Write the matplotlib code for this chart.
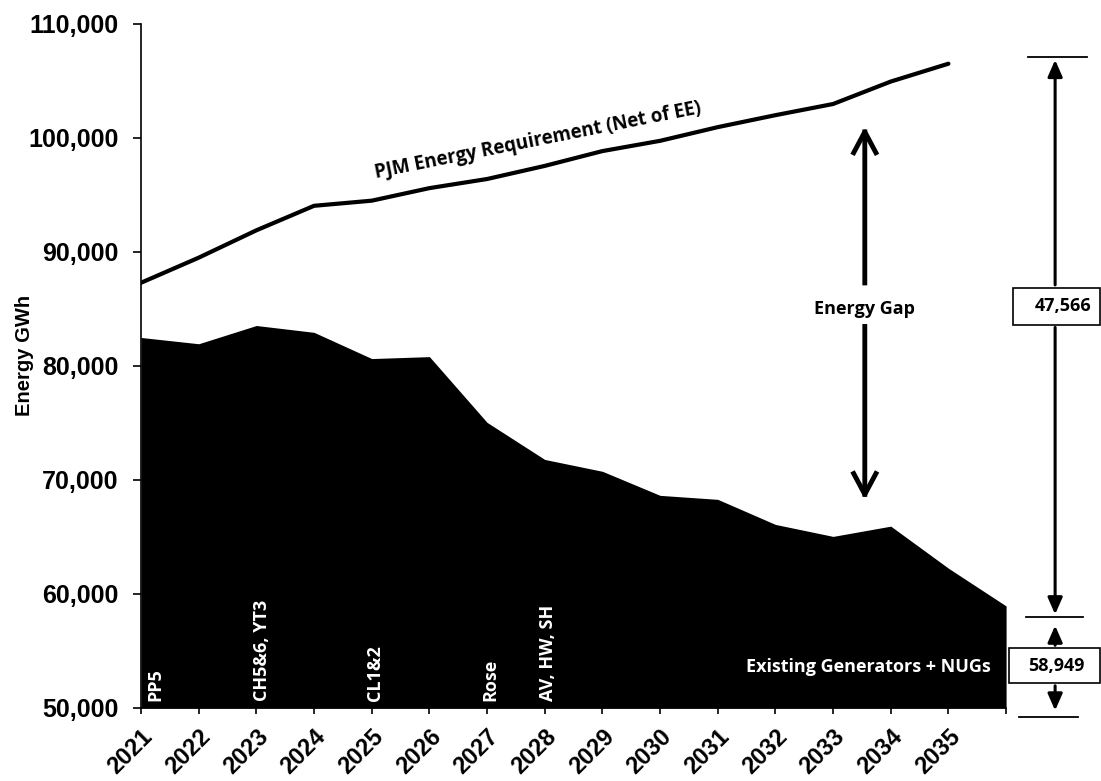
import matplotlib
matplotlib.use("Agg")
import matplotlib.pyplot as plt
from matplotlib.patches import FancyArrowPatch, Rectangle
from matplotlib.ticker import FuncFormatter

# Energy requirement vs. existing generation (GWh)
years = list(range(2021, 2037))
year_labels = [str(y) for y in range(2021, 2036)] + [""]

requirement_years = list(range(2021, 2036))
requirement = [87300, 89500, 91900, 94050, 94500, 95600, 96400, 97550,
               98850, 99750, 100950, 102000, 102980, 104950, 106515]

existing = [82500, 81950, 83550, 82950, 80650, 80820, 75050, 71800,
            70760, 68650, 68300, 66100, 65050, 65950, 62260, 58949]

retirements = ["PP5", "CH5&6, YT3", "CL1&2", "Rose", "AV, HW, SH"]
retirement_x = [2021.24, 2023.10, 2025.06, 2027.05, 2028.06]

gap_value = 47566
existing_end = 58949

tick_font = "Liberation Sans"
note_font = "Open Sans"

fig = plt.figure(figsize=(11.01, 7.81), dpi=100)
ax = fig.add_axes([0.1281, 0.0935, 0.7857, 0.8758])

ax.fill_between(years, existing, 50000, color="black", lw=0)
ax.plot(requirement_years, requirement, color="black", lw=3,
        solid_capstyle="round")

ax.set_xlim(2021, 2036)
ax.set_ylim(50000, 110000)
ax.set_yticks(range(50000, 110001, 10000))
ax.yaxis.set_major_formatter(FuncFormatter(lambda v, p: f"{int(v):,}"))
ax.set_xticks(years)
ax.set_xticklabels(year_labels, rotation=45, ha="right",
                   rotation_mode="anchor")

for lab in ax.get_yticklabels():
    lab.set_fontfamily(tick_font)
    lab.set_fontweight("bold")
    lab.set_fontsize(18)
for lab in ax.get_xticklabels():
    lab.set_fontfamily(tick_font)
    lab.set_fontweight("bold")
    lab.set_fontsize(17)

ax.tick_params(axis="y", direction="out", length=6, width=1.2, pad=10)
ax.tick_params(axis="x", direction="out", length=4, width=1.2, pad=8)
for side in ["top", "right"]:
    ax.spines[side].set_visible(False)
for side in ["left", "bottom"]:
    ax.spines[side].set_linewidth(1.2)

ax.set_ylabel("Energy GWh", fontfamily=tick_font, fontweight="bold",
              fontsize=14.5)
ax.yaxis.set_label_coords(-0.124, 0.516)

# retirement labels inside the area
for name, x in zip(retirements, retirement_x):
    ax.text(x, 50600, name, rotation=90, color="white", ha="center",
            va="bottom", fontfamily=note_font, fontweight="bold", fontsize=13)

ax.text(2035.74, 53590, "Existing Generators + NUGs", color="white",
        ha="right", va="center", fontfamily=note_font, fontweight="bold",
        fontsize=13)

ax.text(2027.88, 99740, "PJM Energy Requirement (Net of EE)", rotation=11.3,
        ha="center", va="center", fontfamily=note_font, fontweight="bold",
        fontsize=13.5)

# energy gap double arrow
gap_x = 2033.55
for start, tip in [(87040, 101230), (83710, 68040)]:
    ax.add_patch(FancyArrowPatch((gap_x, start), (gap_x, tip),
                                 arrowstyle="->,head_length=0.75,head_width=0.4",
                                 mutation_scale=20, lw=3.5, color="black",
                                 capstyle="projecting"))
ax.text(gap_x, 85030, "Energy Gap", ha="center", va="center",
        fontfamily=note_font, fontweight="bold", fontsize=13)


def hline(x0, x1, y):
    ax.plot([x0, x1], [y, y], color="black", lw=1.3, clip_on=False)


def arrow(y0, y1, x):
    a = FancyArrowPatch((x, y0), (x, y1),
                        arrowstyle="-|>,head_length=0.5,head_width=0.22",
                        mutation_scale=20, lw=2.2, color="black")
    a.set_clip_on(False)
    ax.add_patch(a)


def value_box(x0, x1, y0, y1, text, tx):
    r = Rectangle((x0, y0), x1 - x0, y1 - y0, facecolor="white",
                  edgecolor="black", lw=1.2, clip_on=False, zorder=5)
    ax.add_patch(r)
    ax.text(tx, (y0 + y1) / 2, text, ha="center", va="center", zorder=6,
            fontfamily=note_font, fontweight="bold", fontsize=13,
            clip_on=False)


# dimension markers on the right
dim_x = 2036.85
hline(2036.38, 2037.40, 107090)
arrow(86866, 107090, dim_x)
arrow(83627, 57969, dim_x)
value_box(2036.12, 2037.63, 83627, 86866, f"{gap_value:,}", 2036.99)

hline(2036.35, 2037.33, 57969)
arrow(55254, 57470, dim_x)
arrow(52189, 49536, dim_x)
hline(2036.22, 2037.25, 49212)
value_box(2036.05, 2037.63, 52189, 55254, f"{existing_end:,}", 2036.87)

fig.savefig("out.png", dpi=100)
